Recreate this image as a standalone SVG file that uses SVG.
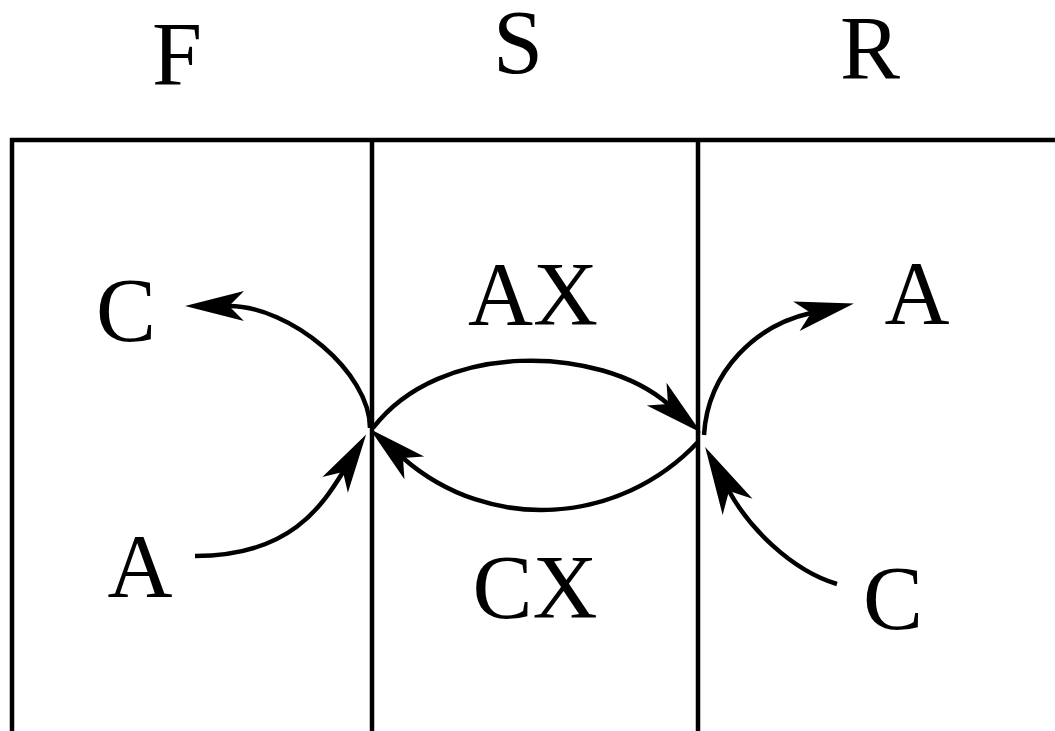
<svg xmlns="http://www.w3.org/2000/svg" width="1055" height="731" viewBox="0 0 1055 731">
  <style>
    .frame { stroke: #000; stroke-width: 4.5; fill: none; }
    .lbl { font-family: "Liberation Serif", "Times New Roman", serif; font-size: 90px; fill: #000; text-anchor: middle; }
    .conn { stroke: #000; stroke-width: 4.5; fill: none; }
    .arr { marker-end: url(#head); }
    .arrbig { marker-end: url(#headBig); }
  </style>
  <defs>
    <marker id="head" markerUnits="userSpaceOnUse" orient="auto" refX="0" refY="0" markerWidth="1" markerHeight="1" overflow="visible">
      <path d="M44,0 L-15,-15 L0,0 L-15,15 Z" fill="#000"/>
    </marker>
    <marker id="headBig" markerUnits="userSpaceOnUse" orient="auto" refX="0" refY="0" markerWidth="1" markerHeight="1" overflow="visible">
      <path d="M50,0 L-18,-17 L0,0 L-18,17 Z" fill="#000"/>
    </marker>
  </defs>
  <rect width="1055" height="731" fill="#fff"/>

  <g id="frame">
    <line class="frame" x1="10" y1="140" x2="1055" y2="140"/>
    <line class="frame" x1="12" y1="138" x2="12" y2="731"/>
    <line class="frame" x1="372" y1="140" x2="372" y2="731"/>
    <line class="frame" x1="698" y1="140" x2="698" y2="731"/>
  </g>

  <g id="col-F"><text class="lbl" x="177" y="85">F</text></g>
  <g id="col-S"><text class="lbl" x="518" y="73">S</text></g>
  <g id="col-R"><text class="lbl" x="870" y="79">R</text></g>

  <g id="node-F-C"><text class="lbl" x="126" y="341">C</text></g>
  <g id="node-F-A"><text class="lbl" x="140" y="597">A</text></g>
  <g id="node-S-AX"><text class="lbl" x="533" y="325">AX</text></g>
  <g id="node-S-CX"><text class="lbl" x="535" y="618">CX</text></g>
  <g id="node-R-A"><text class="lbl" x="917" y="324">A</text></g>
  <g id="node-R-C"><text class="lbl" x="893" y="629">C</text></g>

  <g id="connectors">
    <path class="conn arr" d="M373,428 C440,340 600,345 668,404"/>
    <path class="conn arr" d="M698,442 C620,525 490,534 403,458"/>
    <path class="conn arr" d="M195,556 C290,556 322,506 343,472"/>
    <path class="conn arr" d="M370,428 C370,372 290,306 229,306"/>
    <path class="conn arr" d="M704,435 C708,370 757,325 811,313"/>
    <path class="conn arrbig" d="M837,584 C790,570 748,526 729,491"/>
  </g>
</svg>
